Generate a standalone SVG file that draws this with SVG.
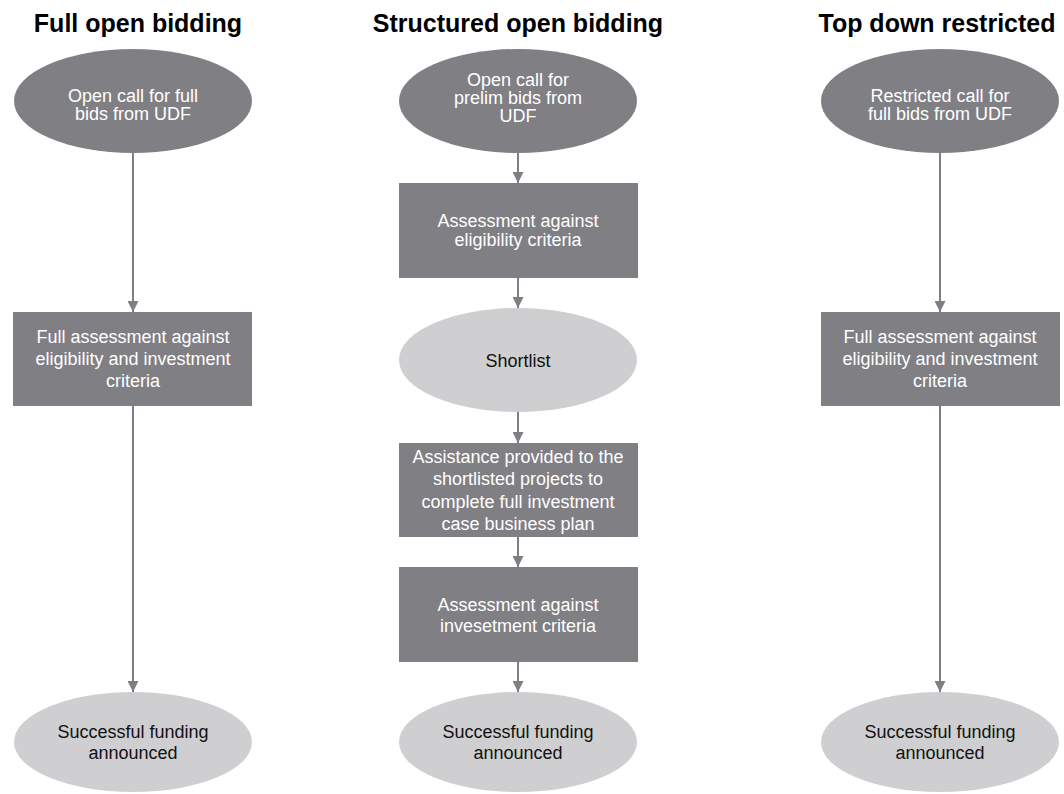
<svg xmlns="http://www.w3.org/2000/svg" width="1064" height="794" viewBox="0 0 1064 794">
  <defs>
    <style>
      .title { font-family: "Liberation Sans", Arial, sans-serif; font-weight: bold; font-size: 25px; fill: #000; text-anchor: middle; }
      .lbl { font-family: "Liberation Sans", Arial, sans-serif; font-size: 18px; text-anchor: middle; }
      .dark { fill: #807f84; }
      .light { fill: #cfcfd1; }
      .dark-t { fill: #ffffff; }
      .light-t { fill: #111111; }
      .conn { stroke: #7f7f82; stroke-width: 2; fill: none; marker-end: url(#arrow); }
    </style>
    <marker id="arrow" markerUnits="userSpaceOnUse" markerWidth="11" markerHeight="11" refX="11" refY="5.5" orient="auto">
      <path d="M0,0 L11,5.5 L0,11 z" fill="#7f7f82"/>
    </marker>
  </defs>
  <rect width="1064" height="794" fill="#ffffff"/>

  <!-- column headings -->
  <text class="title" x="138" y="32">Full open bidding</text>
  <text class="title" x="518" y="32">Structured open bidding</text>
  <text class="title" x="937" y="32">Top down restricted</text>

  <!-- connectors -->
  <g id="connectors">
    <line class="conn" x1="133" y1="153" x2="133" y2="312"/>
    <line class="conn" x1="133" y1="406" x2="133" y2="692"/>
    <line class="conn" x1="518" y1="153" x2="518" y2="183"/>
    <line class="conn" x1="518" y1="278" x2="518" y2="308"/>
    <line class="conn" x1="518" y1="412" x2="518" y2="443"/>
    <line class="conn" x1="518" y1="537" x2="518" y2="567"/>
    <line class="conn" x1="518" y1="662" x2="518" y2="692"/>
    <line class="conn" x1="940" y1="153" x2="940" y2="312"/>
    <line class="conn" x1="940" y1="406" x2="940" y2="692"/>
  </g>

  <!-- Full open bidding -->
  <g id="fob-call">
    <ellipse class="dark" cx="133" cy="101" rx="119" ry="52"/>
    <text class="lbl dark-t" x="133" y="102">Open call for full</text>
    <text class="lbl dark-t" x="133" y="120">bids from UDF</text>
  </g>
  <g id="fob-assess">
    <rect class="dark" x="13" y="312" width="239" height="94"/>
    <text class="lbl dark-t" x="133" y="343">Full assessment against</text>
    <text class="lbl dark-t" x="133" y="365">eligibility and investment</text>
    <text class="lbl dark-t" x="133" y="387">criteria</text>
  </g>
  <g id="fob-success">
    <ellipse class="light" cx="133" cy="742" rx="119" ry="50"/>
    <text class="lbl light-t" x="133" y="738">Successful funding</text>
    <text class="lbl light-t" x="133" y="759">announced</text>
  </g>

  <!-- Structured open bidding -->
  <g id="sob-call">
    <ellipse class="dark" cx="518" cy="101" rx="119" ry="52"/>
    <text class="lbl dark-t" x="518" y="86">Open call for</text>
    <text class="lbl dark-t" x="518" y="104">prelim bids from</text>
    <text class="lbl dark-t" x="518" y="122">UDF</text>
  </g>
  <g id="sob-eligibility">
    <rect class="dark" x="399" y="183" width="239" height="95"/>
    <text class="lbl dark-t" x="518" y="227">Assessment against</text>
    <text class="lbl dark-t" x="518" y="246">eligibility criteria</text>
  </g>
  <g id="sob-shortlist">
    <ellipse class="light" cx="518" cy="360" rx="119" ry="52"/>
    <text class="lbl light-t" x="518" y="367">Shortlist</text>
  </g>
  <g id="sob-assistance">
    <rect class="dark" x="399" y="443" width="239" height="94"/>
    <text class="lbl dark-t" x="518" y="463">Assistance provided to the</text>
    <text class="lbl dark-t" x="518" y="485">shortlisted projects to</text>
    <text class="lbl dark-t" x="518" y="508">complete full investment</text>
    <text class="lbl dark-t" x="518" y="530">case business plan</text>
  </g>
  <g id="sob-investment">
    <rect class="dark" x="399" y="567" width="239" height="95"/>
    <text class="lbl dark-t" x="518" y="611">Assessment against</text>
    <text class="lbl dark-t" x="518" y="632">invesetment criteria</text>
  </g>
  <g id="sob-success">
    <ellipse class="light" cx="518" cy="742" rx="119" ry="50"/>
    <text class="lbl light-t" x="518" y="738">Successful funding</text>
    <text class="lbl light-t" x="518" y="759">announced</text>
  </g>

  <!-- Top down restricted -->
  <g id="tdr-call">
    <ellipse class="dark" cx="940" cy="101" rx="119" ry="52"/>
    <text class="lbl dark-t" x="940" y="102">Restricted call for</text>
    <text class="lbl dark-t" x="940" y="120">full bids from UDF</text>
  </g>
  <g id="tdr-assess">
    <rect class="dark" x="821" y="312" width="239" height="94"/>
    <text class="lbl dark-t" x="940" y="343">Full assessment against</text>
    <text class="lbl dark-t" x="940" y="365">eligibility and investment</text>
    <text class="lbl dark-t" x="940" y="387">criteria</text>
  </g>
  <g id="tdr-success">
    <ellipse class="light" cx="940" cy="742" rx="119" ry="50"/>
    <text class="lbl light-t" x="940" y="738">Successful funding</text>
    <text class="lbl light-t" x="940" y="759">announced</text>
  </g>
</svg>
